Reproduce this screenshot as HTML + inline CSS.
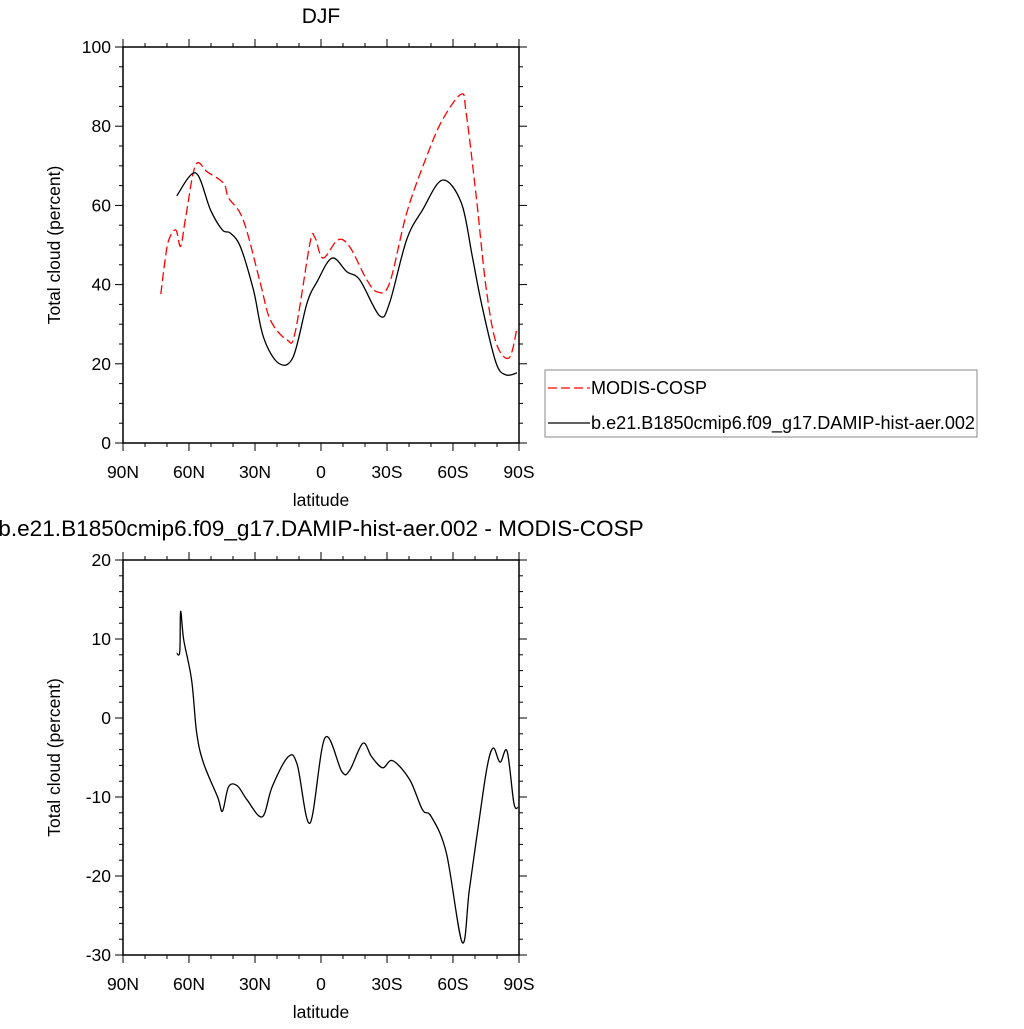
<!DOCTYPE html>
<html><head><meta charset="utf-8"><style>
body{margin:0;background:#fff}
svg text{font-family:"Liberation Sans",sans-serif;fill:#000}
</style></head><body>
<svg id="c" width="1024" height="1024" xmlns="http://www.w3.org/2000/svg"></svg>
<script>
const xTickLabels=["90N","60N","30N","0","30S","60S","90S"];
const xTickLats=[90,60,30,0,-30,-60,-90];
const topYTicks=[0,20,40,60,80,100];
const botYTicks=[-30,-20,-10,0,10,20];
const modisLat=[72.8,71,69.2,66,63.8,61.5,57,51.6,44.3,42,35.3,27.6,23,15.4,11.8,5,2.7,-0.9,-7.7,-13.1,-20.8,-25.8,-31.2,-38.9,-47.9,-55.2,-63.8,-66,-70.6,-75,-79.6,-85.5,-89.1];
const modisVal=[37.6,45.7,51.3,53.8,49.7,57,70.2,68.4,65.6,61.9,56.3,40.4,31,26,27.8,50.5,51.8,46.7,51.3,49.5,41.2,38.1,40.4,58,72.2,81.6,88.1,83.3,62.1,39.4,25.3,21.5,29];
const modelLat=[65.6,57,50.2,44.8,41.2,36.6,30.7,26.2,19.4,12.7,6.3,1.8,-5,-11.8,-17.6,-26.7,-31.2,-38.9,-46.1,-55.2,-63.8,-68.8,-73.3,-79.6,-84.1,-89.1];
const modelVal=[62.4,68.2,58.8,53.8,53,49.5,38.6,26.8,20.2,21.7,35.4,40.7,46.7,43.2,41.2,32.1,35.4,51.3,58.8,66.4,60.6,47,34.3,20.2,17.2,17.7];
const diffLat=[65.6,64.2,63.8,62.4,58.8,56.5,53.4,47,44.8,42,38,33.5,26.7,22.2,14.9,10.8,5,-1.8,-9.5,-13.1,-19,-23,-28,-32.6,-40.3,-46.1,-50.2,-57,-64.2,-67.4,-71.9,-75.5,-78.3,-81.4,-84.6,-87.7,-89.6];
const diffVal=[8.2,8.4,13.5,9.9,4.8,-1.9,-5.7,-10,-11.8,-8.7,-8.6,-10.4,-12.5,-8.7,-4.9,-5.9,-13.3,-2.5,-6.8,-6.6,-3.2,-4.9,-6.3,-5.4,-7.8,-11.6,-12.5,-17.1,-28.4,-21.8,-12.9,-6.2,-3.8,-5.6,-4.2,-10.8,-11.3];

const svg=document.getElementById('c');
const NS="http://www.w3.org/2000/svg";
function mk(tag,attrs,parent){const e=document.createElementNS(NS,tag);for(const k in attrs)e.setAttribute(k,attrs[k]);(parent||svg).appendChild(e);return e;}
const X0=123,X1=519;
const xs=lat=>X0+(90-lat)/180*(X1-X0);

function panel(name,yTop,yBot,vmin,vmax,yTicks,yMinorStep,title){
  const g=mk('g',{});
  
  
  const ys=v=>yBot-(v-vmin)/(vmax-vmin)*(yBot-yTop);
  const fr=mk('rect',{x:X0,y:yTop,width:X1-X0,height:yBot-yTop,fill:'none',stroke:'#000','stroke-width':1.5},g);
  
  
  for(let lat=90;lat>=-90;lat-=10){
    const major=lat%30===0,l=major?8:4,x=xs(lat);
    mk('line',{x1:x,x2:x,y1:yBot,y2:yBot+l,stroke:'#000','stroke-width':1},g);
    mk('line',{x1:x,x2:x,y1:yTop,y2:yTop-l,stroke:'#000','stroke-width':1},g);
  }
  xTickLabels.forEach((t,i)=>{
    const e=mk('text',{x:xs(xTickLats[i]),y:yBot+35,'font-size':17.5,'text-anchor':'middle'},g);
    e.textContent=t;
    
    
  });
  for(let v=vmin;v<=vmax+1e-9;v+=yMinorStep){
    const major=yTicks.includes(Math.round(v)),l=major?8:4,y=ys(v);
    mk('line',{x1:X0,x2:X0-l,y1:y,y2:y,stroke:'#000','stroke-width':1},g);
    mk('line',{x1:X1,x2:X1+l,y1:y,y2:y,stroke:'#000','stroke-width':1},g);
  }
  yTicks.forEach(v=>{
    const e=mk('text',{x:X0-12,y:ys(v)+6,'font-size':17.5,'text-anchor':'end'},g);
    e.textContent=v;
    
    
  });
  const xt=mk('text',{x:(X0+X1)/2,y:yBot+63,'font-size':17.5,'text-anchor':'middle'},g);
  xt.textContent='latitude';
  
  
  const cy=(yTop+yBot)/2;
  const yt=mk('text',{x:60,y:cy,'font-size':17.5,'text-anchor':'middle',transform:`rotate(-90 60 ${cy})`},g);
  yt.textContent='Total cloud (percent)';
  
  
  const tt=mk('text',{x:(X0+X1)/2,y:yTop-24,'font-size':title.length>10?22.6:21,'text-anchor':'middle'},g);
  tt.textContent=title;
  
  
  return {g,ys};
}
function line(p,lats,vals,color,dash,name){
  const P=lats.map((l,i)=>[xs(l),p.ys(vals[i])]);
  let d='M'+P[0][0].toFixed(1)+','+P[0][1].toFixed(1);
  for(let i=0;i<P.length-1;i++){
    const p0=P[Math.max(0,i-1)],p1=P[i],p2=P[i+1],p3=P[Math.min(P.length-1,i+2)];
    const c1=[p1[0]+(p2[0]-p0[0])/6,p1[1]+(p2[1]-p0[1])/6];
    const c2=[p2[0]-(p3[0]-p1[0])/6,p2[1]-(p3[1]-p1[1])/6];
    d+=` C${c1[0].toFixed(1)},${c1[1].toFixed(1)} ${c2[0].toFixed(1)},${c2[1].toFixed(1)} ${p2[0].toFixed(1)},${p2[1].toFixed(1)}`;
  }
  const e=mk('path',{d:d,fill:'none',stroke:color,'stroke-width':1.3,'stroke-dasharray':dash||'none','stroke-linejoin':'round'},p.g);
  
  
}
const p1=panel('top-panel',47,443,0,100,topYTicks,5,'DJF');
line(p1,modisLat,modisVal,'#ff0000','9,4','modis-cosp-line');
line(p1,modelLat,modelVal,'#000','','model-line');
const p2=panel('bottom-panel',560,955,-30,20,botYTicks,2,'b.e21.B1850cmip6.f09_g17.DAMIP-hist-aer.002 - MODIS-COSP');
line(p2,diffLat,diffVal,'#000','','difference-line');

const lg=mk('g',{});


mk('rect',{x:545,y:370,width:432,height:67,fill:'#fff',stroke:'#888','stroke-width':1},lg);
const l1=mk('line',{x1:548,x2:590,y1:388,y2:388,stroke:'#ff0000','stroke-width':1.3,'stroke-dasharray':'9,4'},lg);


const t1=mk('text',{x:591,y:394,'font-size':18},lg);
t1.textContent='MODIS-COSP';


const l2=mk('line',{x1:548,x2:590,y1:423,y2:423,stroke:'#000','stroke-width':1.3},lg);


const t2=mk('text',{x:591,y:429,'font-size':18,textLength:384,lengthAdjust:'spacingAndGlyphs'},lg);
t2.textContent='b.e21.B1850cmip6.f09_g17.DAMIP-hist-aer.002';


</script>
</body></html>
